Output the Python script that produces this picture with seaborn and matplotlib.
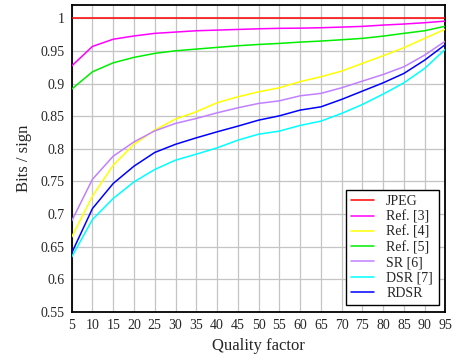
import numpy as np
import pandas as pd
import matplotlib
matplotlib.use("Agg")
import matplotlib.pyplot as plt
import seaborn as sns

quality = [5, 10, 15, 20, 25, 30, 35, 40, 45, 50, 55, 60, 65, 70, 75, 80, 85, 90, 95]

jpeg = [1.0] * 19
ref3 = [0.927, 0.957, 0.968, 0.973, 0.977, 0.979, 0.981, 0.982, 0.983, 0.984, 0.9847, 0.985,
        0.9856, 0.9866, 0.9877, 0.9897, 0.9913, 0.9933, 0.9958]
ref4 = [0.665, 0.7275, 0.775, 0.807, 0.8287, 0.8456, 0.8568, 0.8706, 0.8798, 0.8874, 0.8936, 0.903,
        0.9105, 0.9192, 0.931, 0.9427, 0.955, 0.9693, 0.9836]
ref5 = [0.8916, 0.9181, 0.9319, 0.9402, 0.9463, 0.9503, 0.9529, 0.9555, 0.958, 0.96, 0.9616, 0.9636,
        0.9652, 0.9672, 0.9693, 0.9728, 0.977, 0.981, 0.988]
sr6 = [0.6896, 0.7535, 0.7888, 0.8107, 0.8276, 0.839, 0.8466, 0.8552, 0.8629, 0.8696, 0.8736, 0.8813,
       0.885, 0.8936, 0.9038, 0.914, 0.9258, 0.9437, 0.9652]
dsr7 = [0.6344, 0.6917, 0.724, 0.7494, 0.7684, 0.7827, 0.7919, 0.8015, 0.8133, 0.8225, 0.8272, 0.8359,
        0.8425, 0.8543, 0.868, 0.8839, 0.9012, 0.9233, 0.9529]
rdsr = [0.6405, 0.7086, 0.747, 0.7735, 0.7945, 0.807, 0.8169, 0.8261, 0.8348, 0.844, 0.8506, 0.8594,
        0.8644, 0.8758, 0.8885, 0.9012, 0.9156, 0.936, 0.96]

series_names = ["JPEG", "Ref. [3]", "Ref. [4]", "Ref. [5]", "SR [6]", "DSR [7]", "RDSR"]
series_vals = [jpeg, ref3, ref4, ref5, sr6, dsr7, rdsr]
colors = ["#ff0000", "#ff00ff", "#ffff00", "#00ee00", "#c080ff", "#00ffff", "#0000ff"]

yticks = [0.55, 0.6, 0.65, 0.7, 0.75, 0.8, 0.85, 0.9, 0.95, 1.0]
ytick_labels = ["0.55", "0.6", "0.65", "0.7", "0.75", "0.8", "0.85", "0.9", "0.95", "1"]

rows = []
for name, vals in zip(series_names, series_vals):
    for q, v in zip(quality, vals):
        rows.append({"Quality factor": q, "Bits / sign": v, "Method": name})
df = pd.DataFrame(rows)

sns.set_style("white")
plt.rcParams["font.family"] = ["Liberation Serif", "DejaVu Serif"]

fig = plt.figure(figsize=(4.55, 3.6), dpi=100)
ax = fig.add_axes([0.1576, 0.1333, 0.8214, 0.8527])

sns.lineplot(data=df, x="Quality factor", y="Bits / sign", hue="Method",
             hue_order=series_names, palette=dict(zip(series_names, colors)),
             linewidth=1.1, ax=ax, zorder=3)

ax.set_xlim(5, 95)
ax.set_ylim(0.55, 1.0204)
ax.set_xticks(quality)
ax.set_xticklabels([str(q) for q in quality], fontsize=10)
ax.set_yticks(yticks)
ax.set_yticklabels(ytick_labels, fontsize=10)
ax.tick_params(length=0, pad=5)
ax.grid(True, color="#c4c4c4", linewidth=0.9, zorder=0)
ax.set_axisbelow(True)
for s in ax.spines.values():
    s.set_color("black")
    s.set_linewidth(1.3)
ax.set_xlabel("Quality factor", fontsize=12, labelpad=4)
ax.set_ylabel("Bits / sign", fontsize=12, labelpad=6)

leg = ax.legend(loc="lower right", fontsize=10, frameon=True, fancybox=False,
                edgecolor="black", framealpha=1, handlelength=1.6, handletextpad=0.9,
                borderpad=0.4, labelspacing=0.15, borderaxespad=0.5)
leg.get_frame().set_linewidth(1.0)
for line in leg.get_lines():
    line.set_linewidth(1.1)

fig.savefig("out.png", dpi=100)
